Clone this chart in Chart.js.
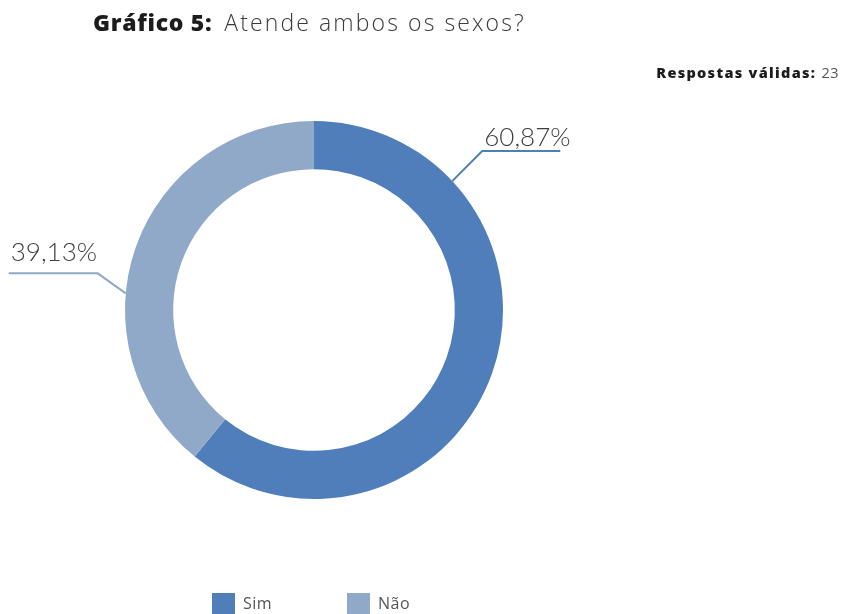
<!DOCTYPE html>
<html lang="pt-BR">
<head>
<meta charset="utf-8">
<script src="https://cdn.jsdelivr.net/npm/chart.js@4"></script>
<style>
  body { margin: 0; background: #fff; font-family: "Open Sans", Lato, sans-serif; }
  #wrap { position: relative; width: 842px; height: 614px; overflow: hidden; }
  #canva { position: absolute; left: 0; top: 0; width: 842px; height: 614px; }
  .titulo { position: absolute; left: 93px; top: 7px; font-size: 23px; line-height: 30px; color: #3a3a3a; font-weight: 300; letter-spacing: 2.1px; white-space: nowrap; }
  .titulo b { font-weight: 800; color: #1c1c1c; letter-spacing: 0.7px; margin-right: 4px; }
  .respostas { position: absolute; right: 3px; top: 64px; font-size: 14.5px; line-height: 18px; font-weight: 800; color: #1c1c1c; letter-spacing: 1.3px; white-space: nowrap; }
  .respostas span { font-weight: 400; color: #555; letter-spacing: 0.5px; }
  #legenda { position: absolute; left: 212px; top: 593px; display: flex; }
  .item { display: flex; align-items: center; width: 135px; font-size: 16px; line-height: 21px; color: #555; letter-spacing: 0.5px; }
  .caixa { width: 23px; height: 21px; margin-right: 8px; }
</style>
</head>
<body>
<div id="wrap">
  <div id="canva"><canvas id="myChart"></canvas></div>
  <div class="titulo"><b>Gráfico 5:</b> Atende ambos os sexos?</div>
  <div class="respostas">Respostas válidas: <span>23</span></div>
  <div id="legenda"></div>
</div>
<script>
const labels = ['Sim', 'Não'];
const percentuais = [60.87, 39.13];

const cores = ['#4f7ebb', '#91a9c8'];

// where each leader line leaves its slice (fraction along the arc) and how it bends
const guias = [
  { along: 0.2145, dx: 30, dy: -30, len: 78, gap: 5 },
  { along: 0.397, dx: -28, dy: -20, len: -89, gap: 12 }
];

function formata(v) {
  return v.toFixed(2).replace('.', ',') + '%';
}

const leaderLines = {
  id: 'leaderLines',
  afterDatasetsDraw(chart) {
    const ctx = chart.ctx;
    const meta = chart.getDatasetMeta(0);
    meta.data.forEach((arc, i) => {
      const p = arc.getProps(['x', 'y', 'outerRadius', 'startAngle', 'endAngle'], true);
      const g = guias[i];
      const a = p.startAngle + (p.endAngle - p.startAngle) * g.along;
      const x0 = p.x + Math.cos(a) * p.outerRadius;
      const y0 = p.y + Math.sin(a) * p.outerRadius;
      const x1 = x0 + g.dx;
      const y1 = y0 + g.dy;
      const x2 = x1 + g.len;
      ctx.save();
      ctx.strokeStyle = cores[i];
      ctx.lineWidth = 2;
      ctx.beginPath();
      ctx.moveTo(x0, y0);
      ctx.lineTo(x1, y1);
      ctx.lineTo(x2, y1);
      ctx.stroke();
      ctx.fillStyle = '#3d3d3d';
      ctx.font = '300 26px Lato, "Open Sans", sans-serif';
      ctx.textAlign = 'left';
      ctx.textBaseline = 'alphabetic';
      ctx.fillText(formata(percentuais[i]), Math.min(x1, x2) + 2, y1 - g.gap);
      ctx.restore();
    });
  }
};

const legenda = document.getElementById('legenda');
labels.forEach((l, i) => {
  const item = document.createElement('div');
  item.className = 'item';
  const caixa = document.createElement('div');
  caixa.className = 'caixa';
  caixa.style.background = cores[i];
  item.appendChild(caixa);
  item.appendChild(document.createTextNode(l));
  legenda.appendChild(item);
});

const ctx = document.getElementById('myChart');
new Chart(ctx, {
  type: 'doughnut',
  data: {
    labels: labels,
    datasets: [{
      data: percentuais,
      backgroundColor: cores,
      borderWidth: 0
    }]
  },
  options: {
    responsive: true,
    maintainAspectRatio: false,
    animation: false,
    cutout: '74.5%',
    layout: { padding: { left: 125, right: 339, top: 121, bottom: 115 } },
    plugins: {
      legend: { display: false },
      tooltip: { enabled: false }
    }
  },
  plugins: [leaderLines]
});
</script>
</body>
</html>
